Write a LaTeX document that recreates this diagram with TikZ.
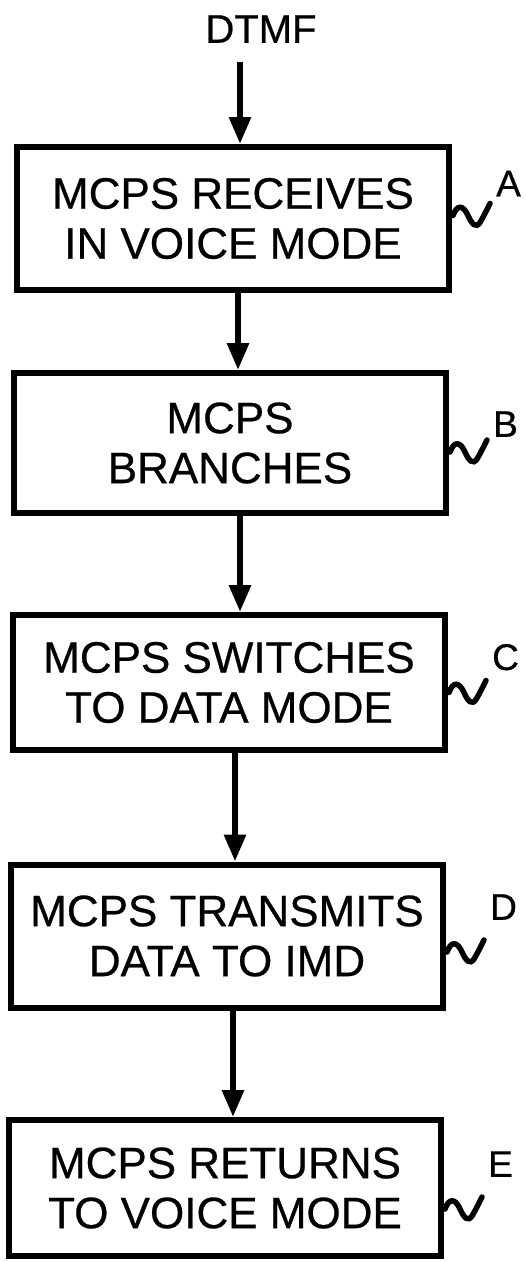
\documentclass[tikz,border=0pt]{standalone}
\usepackage{fontspec}
\setmainfont{Liberation Sans}
\newfontfamily\scanfont{Liberation Sans}[FakeBold=0.6]
\usetikzlibrary{arrows.meta,calc}
\tikzset{
    block/.style = {draw, rectangle, line width=6pt, align=center,
        minimum width=432pt, inner sep=0pt,
        font=\scanfont\fontsize{44}{50}\selectfont},
    arrow/.style = {draw, line width=6pt, -{Triangle[length=27pt,width=21pt]}},
    tag/.style = {anchor=south west, inner sep=0pt,
        font=\scanfont\fontsize{37}{40}\selectfont},
    squig/.pic = {\draw[line width=5.5pt, line cap=round] (0,2) .. controls (4,-9) and (10,-9) .. (15,2) .. controls (19,11) and (23,15) .. (27,9) .. controls (30,4) and (34,-4) .. (37,-10);}
}
\begin{document}
\begin{tikzpicture}[x=1pt,y=-1pt]
\useasboundingbox (0,0) rectangle (526,1262);
% input
\node[font=\scanfont\fontsize{40}{44}\selectfont, inner sep=0pt] (dtmf) at (261,29) {DTMF};
\coordinate (in) at (240,62);
% steps
\node[block, minimum height=143pt] (a) at (233,218.5) {MCPS RECEIVES\\IN VOICE MODE};
\node[block, minimum height=140pt] (b) at (230,443) {MCPS\\BRANCHES};
\node[block, minimum height=135pt] (c) at (229,682.5) {MCPS SWITCHES\\TO DATA MODE};
\node[block, minimum height=143pt] (d) at (227,936) {MCPS TRANSMITS\\DATA TO IMD};
\node[block, minimum height=136pt] (e) at (225,1188) {MCPS RETURNS\\TO VOICE MODE};
% arrows
\draw[arrow] (in) -- (in |- a.north);
\foreach \s/\t/\dx in {a/b/5, b/c/10, c/d/6, d/e/6} {
    \coordinate (o\s) at ([xshift=\dx]\s.south);
    \draw[arrow] (o\s) -- (o\s |- \t.north);
}
% step tags
\foreach \n/\l/\sy/\ly in {a/A/-5/-22, b/B/7/-6, c/C/8/-12, d/D/14/-16, e/E/19/-11} {
    \pic at ([shift={(1,\sy)}]\n.east) {squig};
    \node[tag] at ([shift={(44,\ly)}]\n.east) {\l};
}
\end{tikzpicture}
\end{document}
